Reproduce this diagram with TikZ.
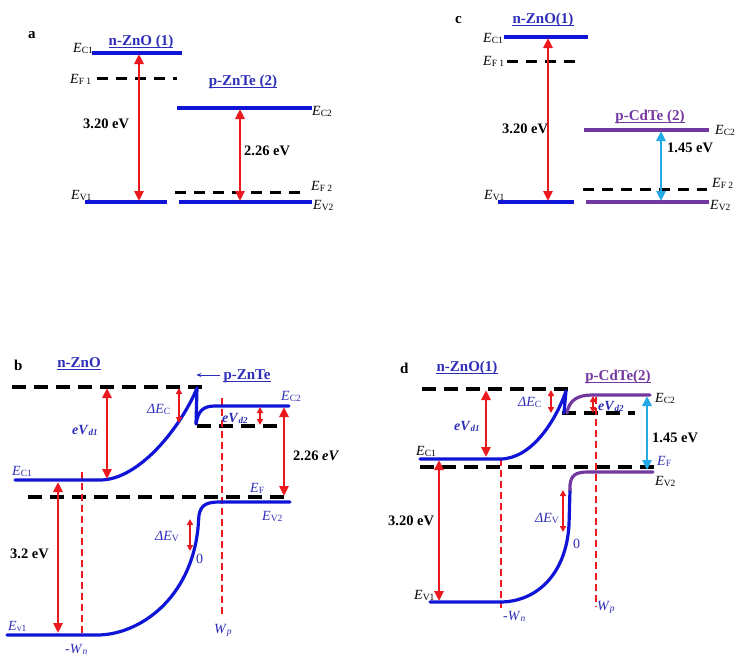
\documentclass[tikz,border=0pt]{standalone}
\usepackage{fontspec}
\setmainfont{Liberation Serif}
\usetikzlibrary{arrows.meta}
\definecolor{bandblue}{RGB}{15,20,215}
\definecolor{txtblue}{RGB}{45,45,185}
\definecolor{ared}{RGB}{235,25,30}
\definecolor{purp}{RGB}{115,55,160}
\definecolor{cyanA}{RGB}{35,170,230}
\newcommand\ESub[2]{\textit{#1}\raisebox{-1.6pt}{\fontsize{9.5}{10}\selectfont #2}}
\newcommand\BSub[2]{\textbf{\textit{#1}}\raisebox{-1.6pt}{\fontsize{9}{10}\selectfont\bfseries\itshape #2}}
\begin{document}
\begin{tikzpicture}[x=1pt,y=-1pt,
  band/.style={line width=3.2pt, bandblue},
  pband/.style={line width=3.2pt, purp},
  fermi/.style={line width=3pt, black, dash pattern=on 11pt off 8pt},
  fermib/.style={line width=3.4pt, black, dash pattern=on 14pt off 8pt},
  bigarr/.style={ared, line width=2.5pt, {Triangle[length=10pt,width=9pt]}-{Triangle[length=10pt,width=9pt]}},
  cyarr/.style={cyanA, line width=2.5pt, {Triangle[length=10pt,width=9pt]}-{Triangle[length=10pt,width=9pt]}},
  smarr/.style={ared, line width=1.6pt, {Triangle[length=6pt,width=6pt]}-{Triangle[length=6pt,width=6pt]}},
  wline/.style={ared, line width=2pt, dash pattern=on 7pt off 4pt},
  elab/.style={anchor=base west, inner sep=0pt, font=\fontsize{14}{14}\selectfont},
  blab/.style={elab, text=txtblue},
  val/.style={anchor=base west, inner sep=0pt, font=\fontsize{14.5}{15}\selectfont\bfseries},
  ttl/.style={anchor=base, inner sep=0pt, font=\fontsize{15}{15}\selectfont\bfseries, text=txtblue},
  pttl/.style={ttl, text=purp},
  plab/.style={anchor=base west, inner sep=0pt, font=\fontsize{15}{15}\selectfont\bfseries},
  uline/.style={line width=1pt}
]
\useasboundingbox (0,0) rectangle (737,659);

% ================= panel a =================
\node[plab] (la) at (28,38) {a};
\node[ttl] (ta1) at (141,45) {n-ZnO (1)};
\draw[uline,txtblue] ([yshift=-2.5pt]ta1.base west) -- ([yshift=-2.5pt]ta1.base east);
\node[ttl] (ta2) at (243,85) {p-ZnTe (2)};
\draw[uline,txtblue] ([yshift=-2.5pt]ta2.base west) -- ([yshift=-2.5pt]ta2.base east);
\draw[band] (92,53) -- (182,53);
\draw[fermi] (97,78) -- (177,78);
\draw[band] (85,202) -- (167,202);
\draw[band] (177,108) -- (312,108);
\draw[fermi] (175,192) -- (302,192);
\draw[band] (179,202) -- (312,202);
\coordinate (a1t) at (139,54); \coordinate (a1b) at (139,201);
\coordinate (a2t) at (240,109); \coordinate (a2b) at (240,201);
\draw[bigarr] (a1t) -- (a1b);
\draw[bigarr] (a2t) -- (a2b);
\node[elab] (aec1) at (73,52) {\ESub{E}{C1}};
\node[elab] (aef1) at (70,83) {\ESub{E}{F 1}};
\node[elab] (aev1) at (71,199) {\ESub{E}{V1}};
\node[elab] (aec2) at (312,115) {\ESub{E}{C2}};
\node[elab] (aef2) at (311,190) {\ESub{E}{F 2}};
\node[elab] (aev2) at (313,209) {\ESub{E}{V2}};
\node[val] (av1) at (83,128) {3.20 eV};
\node[val] (av2) at (244,155) {2.26 eV};

% ================= panel c =================
\node[plab] (lc) at (455,23) {c};
\node[ttl] (tc1) at (543,23) {n-ZnO(1)};
\draw[uline,txtblue] ([yshift=-2.5pt]tc1.base west) -- ([yshift=-2.5pt]tc1.base east);
\node[pttl] (tc2) at (650,120) {p-CdTe (2)};
\draw[uline,purp] ([yshift=-2.5pt]tc2.base west) -- ([yshift=-2.5pt]tc2.base east);
\draw[band] (504,37) -- (588,37);
\draw[fermi] (507,61) -- (578,61);
\draw[band] (498,202) -- (574,202);
\draw[pband] (584,130) -- (709,130);
\draw[fermi] (583,189) -- (707,189);
\draw[pband] (586,202) -- (709,202);
\coordinate (c1t) at (548,38); \coordinate (c1b) at (548,201);
\coordinate (c2t) at (661,131); \coordinate (c2b) at (661,201);
\draw[bigarr] (c1t) -- (c1b);
\draw[cyarr] (c2t) -- (c2b);
\node[elab] (cec1) at (483,42) {\ESub{E}{C1}};
\node[elab] (cef1) at (483,65) {\ESub{E}{F 1}};
\node[elab] (cev1) at (484,199) {\ESub{E}{V1}};
\node[elab] (cec2) at (715,134) {\ESub{E}{C2}};
\node[elab] (cef2) at (712,187) {\ESub{E}{F 2}};
\node[elab] (cev2) at (710,209) {\ESub{E}{V2}};
\node[val] (cv1) at (502,133) {3.20 eV};
\node[val] (cv2) at (667,152) {1.45 eV};

% ================= panel b =================
\node[plab] (lb) at (14,370) {b};
\node[ttl] (tb1) at (79,367) {n-ZnO};
\draw[uline,txtblue] ([yshift=-2.5pt]tb1.base west) -- ([yshift=-2.5pt]tb1.base east);
\node[ttl] (tb2) at (247,379) {p-ZnTe};
\draw[uline,txtblue] ([yshift=-2.5pt]tb2.base west) -- ([yshift=-2.5pt]tb2.base east);
\draw[txtblue, line width=1pt, -{Stealth[length=5pt,width=4pt]}] ([xshift=-3pt,yshift=4pt]tb2.base west) -- ++(-24pt,0pt) coordinate (bArr);
% dashed levels
\draw[fermib] (12,387) -- (203,387);
\draw[fermib] (197,426) -- (277,426);
\draw[fermib] (28,497) -- (287,497);
% red dashed depletion edges
\draw[wline] (82,472) -- (82,636);
\draw[wline] (222,398) -- (222,617);
% conduction band
\draw[band, line cap=round, line join=round] (15,480) -- (100,480) .. controls (140,480) and (182,425) .. (197,388) -- (196,424)
   .. controls (198,411) and (203,406) .. (215,406) -- (289,406);
% valence band
\draw[band, line cap=round, line join=round] (7,635) -- (97,635) .. controls (140,635) and (191,598) .. (198,528) -- (199,515)
   .. controls (201,504) and (208,502) .. (220,502) -- (290,502);
% arrows
\coordinate (bd1t) at (107,388); \coordinate (bd1b) at (107,479);
\draw[bigarr] (bd1t) -- (bd1b);
\coordinate (bct) at (179,388); \coordinate (bcb) at (179,423);
\draw[smarr] (bct) -- (bcb);
\coordinate (bd2t) at (260,407); \coordinate (bd2b) at (260,425);
\draw[smarr] (bd2t) -- (bd2b);
\coordinate (bgt) at (284,407); \coordinate (bgb) at (284,496);
\draw[bigarr] (bgt) -- (bgb);
\coordinate (bgt1) at (58,482); \coordinate (bgb1) at (58,633);
\draw[bigarr] (bgt1) -- (bgb1);
\coordinate (bvt) at (190,519); \coordinate (bvb) at (190,551);
\draw[smarr] (bvt) -- (bvb);
% labels
\node[blab] (bec1) at (12,475) {\ESub{E}{C1}};
\node[blab] (bd1) at (72,434) {\BSub{eV}{d1}};
\node[blab] (bdc) at (147,413) {\ESub{ΔE}{C}};
\node[blab] (bd2) at (222,422) {\BSub{eV}{d2}};
\node[blab] (bec2) at (281,400) {\ESub{E}{C2}};
\node[val] (bv1) at (293,460) {2.26 \textit{eV}};
\node[blab] (bef) at (250,492) {\ESub{E}{F}};
\node[blab] (bev2) at (262,520) {\ESub{E}{V2}};
\node[blab] (bdv) at (155,540) {\ESub{ΔE}{V}};
\node[blab] (b0) at (196,563) {0};
\node[val] (bv2) at (10,558) {3.2 eV};
\node[blab] (bev1) at (8,630) {\ESub{E}{v1}};
\node[blab] (bwn) at (65,653) {-\ESub{W}{\itshape n}};
\node[blab] (bwp) at (214,633) {\ESub{W}{\itshape p}};

% ================= panel d =================
\node[plab] (ld) at (400,373) {d};
\node[ttl] (td1) at (467,371) {n-ZnO(1)};
\draw[uline,txtblue] ([yshift=-2.5pt]td1.base west) -- ([yshift=-2.5pt]td1.base east);
\node[pttl] (td2) at (618,380) {p-CdTe(2)};
\draw[uline,purp] ([yshift=-2.5pt]td2.base west) -- ([yshift=-2.5pt]td2.base east);
% dashed levels
\draw[fermib] (422,389) -- (573,389);
\draw[fermib] (562,413) -- (635,413);
\draw[fermib] (420,467) -- (660,467);
% red dashed depletion edges
\draw[wline] (501,459) -- (501,608);
\draw[wline] (596,397) -- (596,607);
% conduction band
\draw[band, line cap=round, line join=round] (420,459) -- (500,459) .. controls (532,459) and (556,420) .. (566,391) -- (564,413);
\draw[pband, line cap=round, line join=round] (567,413) .. controls (569,400) and (578,395) .. (592,395) -- (650,395);
% valence band
\draw[band, line cap=round, line join=round] (430,602) -- (500,602) .. controls (536,602) and (566,575) .. (569,525) -- (570,490);
\draw[pband, line cap=round, line join=round] (570,490) -- (570,485) .. controls (571,475) and (576,472) .. (588,472) -- (653,472);
% arrows
\coordinate (dd1t) at (486,390); \coordinate (dd1b) at (486,457);
\draw[bigarr] (dd1t) -- (dd1b);
\coordinate (dct) at (551,390); \coordinate (dcb) at (551,413);
\draw[smarr] (dct) -- (dcb);
\coordinate (dd2t) at (593,396); \coordinate (dd2b) at (593,413);
\draw[smarr] (dd2t) -- (dd2b);
\coordinate (dgt) at (647,396); \coordinate (dgb) at (647,470);
\draw[cyarr] (dgt) -- (dgb);
\coordinate (dgt1) at (439,460); \coordinate (dgb1) at (439,601);
\draw[bigarr] (dgt1) -- (dgb1);
\coordinate (dvt) at (563,490); \coordinate (dvb) at (563,532);
\draw[smarr] (dvt) -- (dvb);
% labels
\node[elab] (dec1) at (416,455) {\ESub{E}{C1}};
\node[blab] (dd1) at (454,430) {\BSub{eV}{d1}};
\node[blab] (ddc) at (518,406) {\ESub{ΔE}{C}};
\node[blab] (dd2) at (598,410) {\BSub{eV}{d2}};
\node[elab] (dec2) at (655,402) {\ESub{E}{C2}};
\node[val] (dv1) at (652,442) {1.45 eV};
\node[blab] (def) at (657,465) {\ESub{E}{F}};
\node[elab] (dev2) at (655,485) {\ESub{E}{V2}};
\node[blab] (ddv) at (535,522) {\ESub{ΔE}{V}};
\node[blab] (d0) at (573,548) {0};
\node[val] (dv2) at (388,525) {3.20 eV};
\node[elab] (dev1) at (414,599) {\ESub{E}{V1}};
\node[blab] (dwn) at (503,620) {-\ESub{W}{\itshape n}};
\node[blab] (dwp) at (597,610) {\ESub{W}{\itshape p}};
\end{tikzpicture}
\end{document}
